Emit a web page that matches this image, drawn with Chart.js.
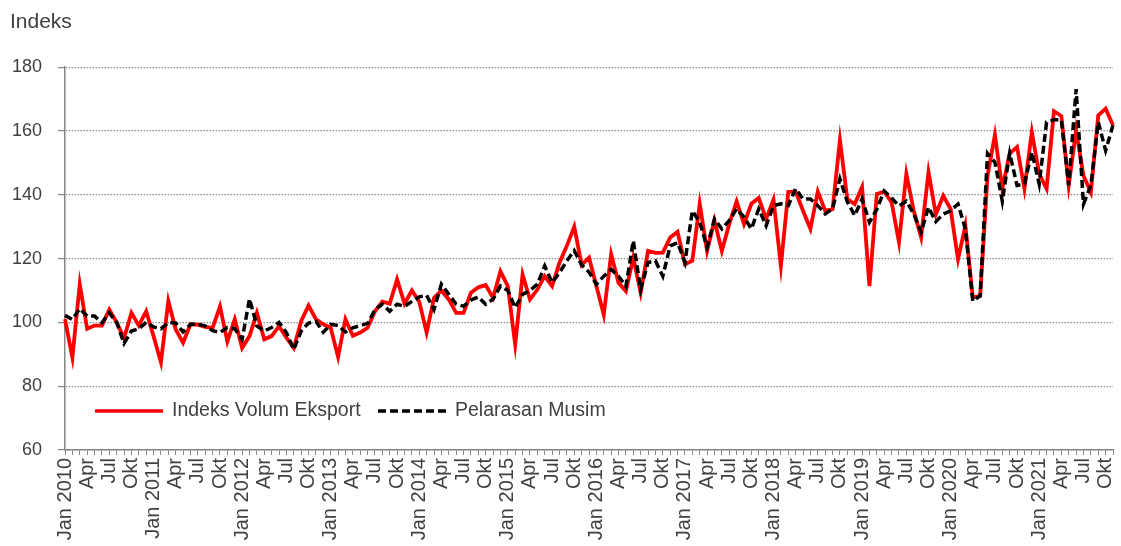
<!DOCTYPE html>
<html>
<head>
<meta charset="utf-8">
<script src="https://cdn.jsdelivr.net/npm/chart.js@4.4.1/dist/chart.umd.min.js"></script>
<style>
  html, body { margin: 0; padding: 0; background: #fff; }
  #wrap { width: 1121px; height: 546px; }
</style>
</head>
<body>
<div id="wrap"><canvas id="eksportChart" width="1121" height="546"></canvas></div>
<script>
// Bulan dan tahun (Jan 2010 - Nov 2021)
const years = [2010, 2011, 2012, 2013, 2014, 2015, 2016, 2017, 2018, 2019, 2020, 2021];
const months = ['Jan', 'Feb', 'Mac', 'Apr', 'Mei', 'Jun', 'Jul', 'Ogo', 'Sep', 'Okt', 'Nov', 'Dis'];
const tickMonths = { 0: 'Jan', 3: 'Apr', 6: 'Jul', 9: 'Okt' };

const categories = [];
years.forEach(y => months.forEach(m => categories.push(m + ' ' + y)));
categories.length = 143;

// Indeks Volum Eksport
const volumEksport = [
  101, 89, 112, 98, 99, 99, 104, 100, 95, 103, 99, 103.5,
  95.7, 87.5, 106.7, 97.8, 93.6, 99.4, 99.3, 98.6, 98.3, 105, 94, 101,
  92, 95.7, 103, 94.7, 95.7, 98.8, 95.2, 92, 100.4, 105.3, 101, 99.4,
  98.3, 89.2, 101, 95.8, 96.8, 98.3, 103.5, 106.5, 105.9, 113.5, 105.9, 110,
  106.5, 96.8, 107.7, 110, 107.2, 103, 103, 109.3, 111, 111.7, 107.7, 116,
  111.4, 93.1, 115, 107.2, 110.3, 114.5, 111.4, 118.7, 124, 130, 118, 120.3,
  111.4, 102.4, 121.4, 112.4, 109.8, 120.3, 109.3, 122.4, 121.8, 121.9, 126.6, 128.4,
  118.2, 119.3, 137.2, 122.4, 131.9, 122.4, 130.8, 137.9, 130.8, 137.2, 139, 132.4,
  138.5, 117.7, 140.9, 141, 135, 129.3, 141, 135, 135.5, 157.2, 138.7, 137.1,
  142.4, 111.4, 140.3, 141, 137.7, 125.1, 146.6, 135, 126.7, 147.1, 133.9, 139.7,
  135.5, 119.8, 130.3, 107.8, 108.3, 146, 158.8, 141.9, 152.9, 155, 141.9, 159.7,
  146.6, 141.9, 166.2, 164.7, 142.9, 160.2, 146, 140.8, 164.9, 167, 161.8
];

// Pelarasan Musim
const pelarasanMusim = [
  102.2, 100.9, 104.3, 102, 102, 99.9, 103, 100, 93.4, 97.3, 98, 100,
  98.6, 98, 100, 99.8, 97, 99.4, 99.4, 98.9, 97.4, 96.9, 98.4, 98,
  94.7, 107.4, 98.9, 97.3, 98.4, 100, 96.8, 91.5, 97.3, 99.8, 100.3, 96.9,
  99.4, 99, 97, 98.3, 99, 99.7, 104, 105.7, 103.5, 105.7, 105, 106.6,
  108, 108.5, 104, 112, 108.8, 105.7, 105.1, 107, 108, 105.7, 107.3, 111.4,
  110, 104.6, 108.8, 110, 112, 117.7, 112.5, 115.6, 119.3, 122.5, 118, 115.8,
  111.9, 114.5, 116.6, 114.5, 111.3, 125.6, 110.3, 118.8, 119.3, 114.5, 124, 125,
  118.8, 135, 131.4, 123.5, 132.4, 129.3, 131.9, 135.6, 133, 129.3, 135.6, 130.3,
  136.6, 137.2, 136.6, 141.9, 138.7, 138.7, 136.6, 134, 135.6, 145, 137.8, 133.5,
  138.7, 131.4, 135.5, 141.2, 139, 136.5, 138, 134, 128.2, 136.1, 131.6, 134,
  135, 137.1, 129.3, 106.7, 108.3, 153, 150.2, 138, 153, 142.9, 143.4, 153.4,
  143.4, 162.8, 163.5, 163.5, 143, 173.1, 137.1, 143, 162.8, 153.9, 161.8
];

const yTicks = [60, 80, 100, 120, 140, 160, 180];

const FONT = "'Liberation Sans', Arial, sans-serif";
const TEXT = '#404040';
const AXIS = '#868686';

// legenda dalam kawasan carta
const legendInside = {
  id: 'legendInside',
  afterDraw(chart) {
    const ctx = chart.ctx;
    const y = 411;
    ctx.save();
    ctx.font = '19.5px ' + FONT;
    ctx.fillStyle = TEXT;
    ctx.textBaseline = 'middle';
    ctx.lineWidth = 3.5;

    ctx.strokeStyle = '#ff0000';
    ctx.setLineDash([]);
    ctx.beginPath(); ctx.moveTo(95, y); ctx.lineTo(163, y); ctx.stroke();
    ctx.fillText('Indeks Volum Eksport', 172, y);

    ctx.strokeStyle = '#000000';
    ctx.setLineDash([8, 4]);
    ctx.beginPath(); ctx.moveTo(378, y); ctx.lineTo(446, y); ctx.stroke();
    ctx.fillText('Pelarasan Musim', 455, y);
    ctx.restore();
  }
};

const config = {
  type: 'line',
  data: {
    labels: categories,
    datasets: [
      {
        label: 'Indeks Volum Eksport',
        data: volumEksport,
        borderColor: '#ff0000',
        borderWidth: 3.8,
        pointRadius: 0,
        tension: 0,
        fill: false,
        order: 2
      },
      {
        label: 'Pelarasan Musim',
        data: pelarasanMusim,
        borderColor: '#000000',
        borderWidth: 3.5,
        borderDash: [8, 4],
        pointRadius: 0,
        tension: 0,
        fill: false,
        order: 1
      }
    ]
  },
  options: {
    responsive: false,
    animation: false,
    layout: { padding: { left: 10, right: 8, top: 0, bottom: 0 } },
    plugins: {
      legend: { display: false },
      tooltip: { enabled: false },
      title: {
        display: true,
        text: 'Indeks',
        align: 'start',
        color: TEXT,
        font: { family: FONT, size: 21, weight: 'normal', lineHeight: 1.2 },
        padding: { top: 10, bottom: 32 }
      }
    },
    scales: {
      x: {
        type: 'category',
        offset: false,
        grid: {
          display: true,
          drawOnChartArea: false,
          drawTicks: true,
          offset: false,
          tickLength: 5,
          tickColor: AXIS,
          tickWidth: 1
        },
        border: { display: true, color: AXIS, width: 1.5 },
        ticks: {
          autoSkip: false,
          minRotation: 90,
          maxRotation: 90,
          padding: 3,
          color: TEXT,
          font: { family: FONT, size: 20 },
          callback: function (val, i) {
            const m = i % 12;
            if (!(m in tickMonths)) return '';
            return m === 0 ? 'Jan ' + years[Math.floor(i / 12)] : tickMonths[m];
          }
        },
        afterFit: function (scale) {
          scale.height = 96;
          scale.paddingLeft = 0;
          scale.paddingRight = 0;
        }
      },
      y: {
        min: 60,
        max: 180,
        afterBuildTicks: function (scale) {
          scale.ticks = yTicks.map(v => ({ value: v }));
        },
        grid: {
          color: '#8c8c8c',
          lineWidth: 1.2,
          tickLength: 7,
          tickColor: AXIS,
          tickBorderDash: []
        },
        border: { display: true, color: AXIS, width: 1.5, dash: [1.5, 1.5] },
        ticks: {
          padding: 16,
          color: TEXT,
          font: { family: FONT, size: 18 }
        },
        afterFit: function (scale) { scale.width = 55; }
      }
    }
  },
  plugins: [legendInside]
};

new Chart(document.getElementById('eksportChart'), config);
</script>
</body>
</html>
